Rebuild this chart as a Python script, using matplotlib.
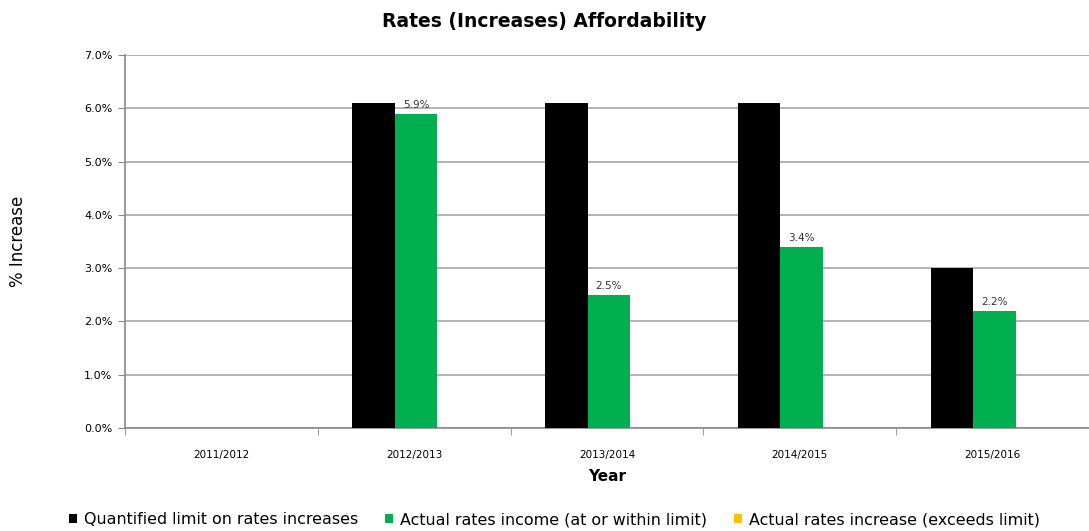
import numpy as np
import matplotlib.pyplot as plt
from matplotlib.ticker import FuncFormatter, FixedLocator, NullFormatter
from matplotlib.patches import Patch

years = ["2011/2012", "2012/2013", "2013/2014", "2014/2015", "2015/2016"]
limit = [np.nan, 6.1, 6.1, 6.1, 3.0]
actual_within = [np.nan, 5.9, 2.5, 3.4, 2.2]
actual_exceeds = [np.nan, np.nan, np.nan, np.nan, np.nan]

series_names = ["Quantified limit on rates increases",
                "Actual rates income (at or within limit)",
                "Actual rates increase (exceeds limit)"]
colors = ["#000000", "#00b050", "#ffc000"]

fig = plt.figure(figsize=(10.89, 5.31), dpi=100)
ax = fig.add_axes([0.1148, 0.194, 0.885, 0.702])

x = np.arange(len(years))
w = 0.22
for k, vals in enumerate([limit, actual_within, actual_exceeds]):
    ax.bar(x + (k - 1) * w + 0.01, vals, width=w, color=colors[k], zorder=3)

# data labels on green bars
for xi, v in zip(x, actual_within):
    if not np.isnan(v):
        ax.text(xi + 0.01, v + 0.08, f"{v:.1f}%", ha="center", va="bottom", fontsize=7.5, color="#333333")

ax.set_xlim(-0.5, len(years) - 0.5)
ax.set_ylim(0, 7)
ax.set_yticks(np.arange(0, 7.01, 1))
ax.yaxis.set_major_formatter(FuncFormatter(lambda v, p: f"{v:.1f}%"))
ax.grid(axis="y", color="#a6a6a6", lw=1.2, zorder=0)

ax.set_xticks(x)
ax.set_xticklabels(years, fontsize=7.5)
ax.tick_params(axis="x", length=0, pad=16)
ax.xaxis.set_minor_locator(FixedLocator(np.arange(-0.5, len(years), 1)))
ax.xaxis.set_minor_formatter(NullFormatter())
ax.tick_params(axis="x", which="minor", length=5, color="#888888")
ax.tick_params(axis="y", labelsize=8, length=5, color="#888888", pad=4)

for s in ["top", "right"]:
    ax.spines[s].set_visible(False)
for s in ["left", "bottom"]:
    ax.spines[s].set_color("#888888")
    ax.spines[s].set_linewidth(1.2)

ax.set_xlabel("Year", fontsize=11, fontweight="bold", labelpad=6)
ax.set_ylabel("% Increase", fontsize=12)
ax.yaxis.set_label_coords(-0.102, 0.5)
fig.suptitle("Rates (Increases) Affordability", fontsize=13.5, fontweight="bold", y=0.978)

handles = [Patch(facecolor=c) for c in colors]
fig.legend(handles, series_names, loc="center", bbox_to_anchor=(0.509, 0.021), ncol=3,
           frameon=False, fontsize=11.4, handlelength=0.5, handleheight=0.5, handletextpad=0.45,
           columnspacing=1.7, borderpad=0)

fig.savefig("out.png", dpi=100)
